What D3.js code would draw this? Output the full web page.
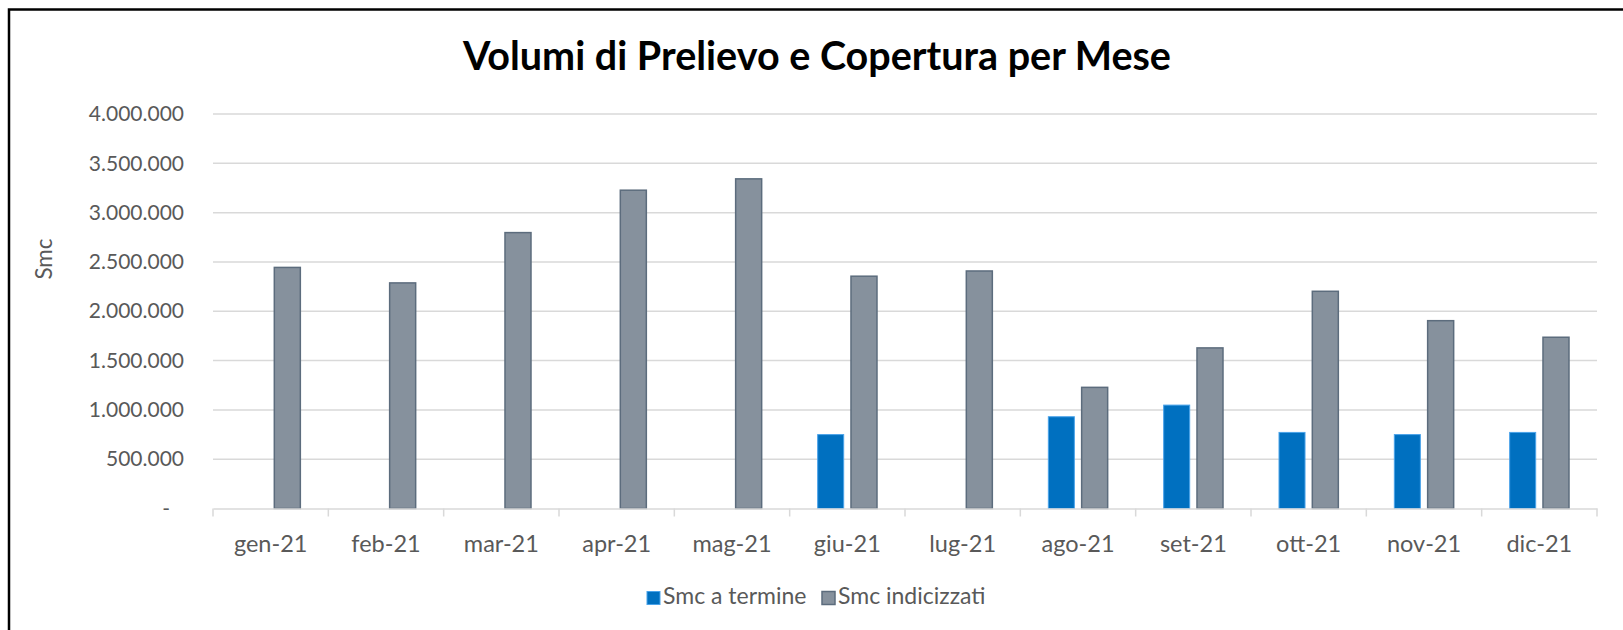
<!DOCTYPE html>
<html>
<head>
<meta charset="utf-8">
<script src="https://cdn.jsdelivr.net/npm/d3@7"></script>
<style>
body { margin: 0; background: #fff; }
svg { display: block; font-family: Lato, "Open Sans", sans-serif; }
</style>
</head>
<body>
<div id="chart"></div>
<script>
//data
var months = ["gen-21","feb-21","mar-21","apr-21","mag-21","giu-21","lug-21","ago-21","set-21","ott-21","nov-21","dic-21"];
var termine = [0, 0, 0, 0, 0, 757000, 0, 938000, 1056000, 779000, 757000, 779000];
var indicizzati = [2452000, 2295000, 2805000, 3235000, 3350000, 2363000, 2416000, 1236000, 1636000, 2210000, 1912000, 1744000];
var yTicks = [0, 500000, 1000000, 1500000, 2000000, 2500000, 3000000, 3500000, 4000000];
var seriesNames = ["Smc a termine", "Smc indicizzati"];
var seriesColors = ["#0070c0", "#86919d"];
var seriesStrokes = ["#4aa3ea", "#5c6c7d"];

var width = 1623, height = 630;
var font = "Lato, 'Open Sans', sans-serif";

var svg = d3.select("#chart").append("svg")
    .attr("width", width)
    .attr("height", height);

//frame (cut at the right and bottom like the picture)
svg.append("path")
    .attr("d", "M9,640 V9.5 H1640")
    .attr("fill", "none")
    .attr("stroke", "#000")
    .attr("stroke-width", 2.5);

var x = d3.scaleBand()
    .domain(months)
    .range([213, 1597]);

var x1 = d3.scaleBand()
    .domain(seriesNames)
    .range([0, x.bandwidth()])
    .paddingInner(0.174)
    .paddingOuter(0.818);

var y = d3.scaleLinear()
    .domain([0, 4000000])
    .range([508.5, 114]);

var it = d3.formatLocale({decimal: ",", thousands: ".", grouping: [3], currency: ["€", ""]});
var fmt = it.format(",.0f");

//gridlines
svg.append("g").selectAll("line.grid")
    .data(yTicks.slice(1))
    .enter().append("line")
    .attr("class", "grid")
    .attr("x1", 213).attr("x2", 1597)
    .attr("y1", function(d) { return y(d); })
    .attr("y2", function(d) { return y(d); })
    .attr("stroke", "#d9d9d9")
    .attr("stroke-width", 1.5);

//y axis labels
var yAxis = svg.append("g")
    .attr("transform", "translate(213,0)")
    .call(d3.axisLeft(y).tickValues(yTicks).tickSize(0).tickPadding(29)
        .tickFormat(function(d) { return d == 0 ? "-" : fmt(d); }))
    .attr("font-family", font)
    .attr("font-size", 21);
yAxis.select(".domain").remove();
yAxis.selectAll("text")
    .attr("fill", "#595959")
    .attr("dx", function(d) { return d == 0 ? -14 : 0; });

svg.append("text")
    .attr("transform", "translate(52,259) rotate(-90)")
    .attr("text-anchor", "middle")
    .attr("fill", "#595959")
    .style("font-size", "22.5px")
    .text("Smc");

//bars
var groups = svg.append("g").selectAll("g.month")
    .data(months)
    .enter().append("g")
    .attr("class", "month")
    .attr("transform", function(d) { return "translate(" + x(d) + ",0)"; });

groups.selectAll("rect")
    .data(function(d, i) {
        return [{s: 0, v: termine[i]}, {s: 1, v: indicizzati[i]}].filter(function(b) { return b.v > 0; });
    })
    .enter().append("rect")
    .attr("x", function(d) { return x1(seriesNames[d.s]) + 0.75; })
    .attr("width", x1.bandwidth() - 1.5)
    .attr("y", function(d) { return y(d.v) + 0.75; })
    .attr("height", function(d) { return y(0) - y(d.v) - 0.75; })
    .attr("fill", function(d) { return seriesColors[d.s]; })
    .attr("stroke", function(d) { return seriesStrokes[d.s]; })
    .attr("stroke-width", function(d) { return d.s == 1 ? 1.5 : 1; });

//x axis
var xAxis = svg.append("g")
    .attr("transform", "translate(0," + y(0) + ")")
    .call(d3.axisBottom(x).tickSize(0).tickPadding(27))
    .attr("font-family", font)
    .attr("font-size", 23.5);
xAxis.select(".domain").attr("stroke", "#d9d9d9").attr("stroke-width", 1.5);
xAxis.selectAll("text")
    .attr("fill", "#595959");

var edges = months.map(function(d) { return x(d); }).concat([x.range()[1]]);
xAxis.selectAll("line.edge")
    .data(edges)
    .enter().append("line")
    .attr("class", "edge")
    .attr("x1", function(d) { return d; })
    .attr("x2", function(d) { return d; })
    .attr("y1", 0).attr("y2", 8)
    .attr("stroke", "#d9d9d9")
    .attr("stroke-width", 1.5);

//title
svg.append("text")
    .attr("x", 817)
    .attr("y", 70)
    .attr("text-anchor", "middle")
    .style("font-size", "39.5px")
    .style("font-weight", "bold")
    .attr("fill", "#000")
    .text("Volumi di Prelievo e Copertura per Mese");

//legend
var legend = svg.append("g").attr("transform", "translate(647,604)");
var lx = [0, 175];
seriesNames.forEach(function(name, i) {
    legend.append("rect")
        .attr("x", lx[i])
        .attr("y", -12.5)
        .attr("width", 13)
        .attr("height", 13)
        .attr("fill", seriesColors[i])
        .attr("stroke", seriesStrokes[i])
        .attr("stroke-width", i == 1 ? 1.5 : 1);
    legend.append("text")
        .attr("x", lx[i] + 16)
        .attr("y", 0)
        .attr("fill", "#595959")
        .style("font-size", "23px")
        .text(name);
});
</script>
</body>
</html>
